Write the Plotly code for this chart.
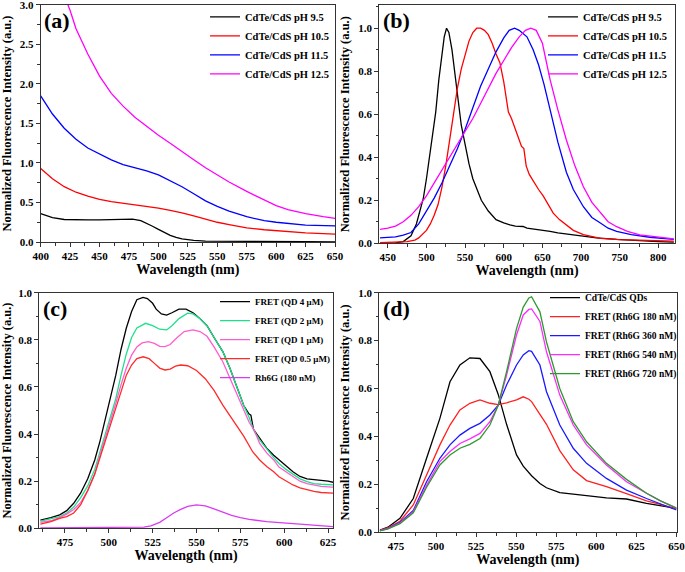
import plotly.graph_objects as go

# ---------------- Panel (a) ----------------
a_names = ["CdTe/CdS pH 9.5", "CdTe/CdS pH 10.5", "CdTe/CdS pH 11.5", "CdTe/CdS pH 12.5"]
a_x95 = [400, 410, 420, 430, 440, 450, 460, 470, 478, 485, 490, 495, 500, 505, 510, 515, 520, 525, 530, 540, 550, 575, 600, 625, 650]
a_y95 = [0.36, 0.31, 0.285, 0.28, 0.28, 0.28, 0.282, 0.29, 0.29, 0.27, 0.24, 0.20, 0.16, 0.12, 0.085, 0.06, 0.04, 0.03, 0.02, 0.012, 0.01, 0.008, 0.006, 0.004, 0.003]
a_x105 = [400, 410, 420, 430, 440, 450, 460, 470, 480, 490, 500, 510, 520, 530, 540, 550, 560, 575, 590, 600, 625, 650]
a_y105 = [0.93, 0.80, 0.70, 0.63, 0.58, 0.54, 0.51, 0.49, 0.47, 0.45, 0.43, 0.40, 0.37, 0.33, 0.29, 0.25, 0.22, 0.18, 0.155, 0.145, 0.115, 0.10]
a_x115 = [400, 410, 420, 430, 440, 450, 460, 470, 480, 490, 500, 510, 520, 530, 540, 550, 560, 575, 590, 600, 625, 650]
a_y115 = [1.85, 1.62, 1.44, 1.30, 1.19, 1.11, 1.04, 0.98, 0.94, 0.90, 0.85, 0.78, 0.70, 0.61, 0.52, 0.45, 0.39, 0.32, 0.27, 0.25, 0.215, 0.205]
a_x125 = [415, 420, 425, 430, 440, 450, 460, 470, 480, 490, 500, 510, 520, 530, 540, 550, 560, 575, 590, 600, 610, 625, 640, 650]
a_y125 = [3.40, 3.12, 2.93, 2.70, 2.38, 2.10, 1.88, 1.72, 1.58, 1.46, 1.35, 1.25, 1.14, 1.04, 0.94, 0.85, 0.76, 0.64, 0.53, 0.46, 0.41, 0.36, 0.32, 0.30]

# ---------------- Panel (b) ----------------
b_x95 = [440, 460, 470, 480, 487, 492, 496, 500, 504, 508, 512, 516, 520, 523, 526, 529, 533, 537, 541, 545, 550, 555, 560, 565, 571, 580, 590, 600, 608, 615, 625, 630, 640, 650, 660, 670, 682, 695, 707, 720, 746, 770, 800, 820]
b_y95 = [0.0, 0.002, 0.008, 0.035, 0.09, 0.15, 0.21, 0.30, 0.40, 0.50, 0.61, 0.76, 0.88, 0.96, 1.0, 0.98, 0.90, 0.79, 0.67, 0.55, 0.46, 0.37, 0.30, 0.25, 0.20, 0.15, 0.11, 0.095, 0.085, 0.08, 0.078, 0.07, 0.065, 0.062, 0.055, 0.048, 0.042, 0.035, 0.031, 0.025, 0.018, 0.012, 0.008, 0.005]
b_x105 = [440, 460, 475, 485, 490, 500, 505, 510, 515, 520, 525, 530, 535, 540, 545, 550, 555, 560, 565, 570, 575, 580, 585, 590, 595, 600, 603, 606, 610, 615, 620, 623, 626, 629, 633, 638, 645, 651, 657, 664, 672, 682, 690, 703, 725, 750, 768, 790, 820]
b_y105 = [0.003, 0.005, 0.008, 0.015, 0.025, 0.06, 0.09, 0.13, 0.18, 0.26, 0.36, 0.48, 0.60, 0.72, 0.81, 0.88, 0.94, 0.98, 1.0, 1.0, 0.99, 0.97, 0.93, 0.88, 0.84, 0.75, 0.68, 0.61, 0.58, 0.53, 0.47, 0.45, 0.44, 0.36, 0.32, 0.29, 0.25, 0.22, 0.18, 0.14, 0.11, 0.08, 0.06, 0.04, 0.023, 0.017, 0.015, 0.012, 0.01]
b_x115 = [440, 450, 460, 470, 480, 490, 500, 510, 520, 530, 540, 550, 560, 570, 580, 590, 600, 607, 614, 620, 630, 638, 645, 652, 660, 670, 681, 690, 703, 714, 725, 735, 746, 765, 789, 820]
b_y115 = [0.025, 0.026, 0.03, 0.038, 0.05, 0.09, 0.15, 0.21, 0.28, 0.36, 0.44, 0.53, 0.63, 0.73, 0.81, 0.89, 0.955, 0.99, 1.0, 0.99, 0.96, 0.90, 0.83, 0.74, 0.62, 0.47, 0.33, 0.25, 0.17, 0.12, 0.094, 0.07, 0.055, 0.04, 0.028, 0.018]
b_x125 = [440, 450, 460, 470, 480, 490, 500, 510, 520, 530, 540, 550, 560, 570, 580, 590, 600, 610, 620, 628, 635, 642, 650, 660, 670, 681, 692, 703, 714, 725, 735, 746, 760, 776, 800, 820]
b_y125 = [0.065, 0.07, 0.08, 0.10, 0.13, 0.17, 0.22, 0.28, 0.34, 0.40, 0.46, 0.52, 0.58, 0.65, 0.72, 0.79, 0.85, 0.91, 0.96, 0.99, 1.0, 0.99, 0.93, 0.76, 0.62, 0.48, 0.36, 0.263, 0.19, 0.14, 0.10, 0.077, 0.055, 0.039, 0.027, 0.02]

# ---------------- Panel (c) ----------------
c_names = ["FRET (QD 4 \u03bcM)", "FRET (QD 2 \u03bcM)", "FRET (QD 1 \u03bcM)", "FRET (QD 0.5 \u03bcM)", "Rh6G (180 nM)"]
c_x4 = [461, 467, 472, 476, 480, 484, 488, 492, 495, 498, 501, 504, 507, 510, 513, 516, 519.5, 522, 525, 527, 530, 533, 536, 540, 544, 548, 552, 556, 560, 565, 569, 573, 577, 580, 581, 582.5, 586, 590, 594, 597, 601, 605, 609, 613, 617, 621, 625, 628]
c_y4 = [0.035, 0.045, 0.057, 0.075, 0.106, 0.15, 0.21, 0.29, 0.37, 0.46, 0.55, 0.65, 0.76, 0.85, 0.92, 0.97, 0.98, 0.975, 0.955, 0.93, 0.91, 0.905, 0.915, 0.93, 0.93, 0.915, 0.89, 0.86, 0.81, 0.75, 0.68, 0.60, 0.52, 0.485, 0.48, 0.42, 0.38, 0.34, 0.31, 0.29, 0.265, 0.24, 0.22, 0.21, 0.207, 0.205, 0.20, 0.195]
c_x2 = [461, 467, 472, 476, 480, 484, 488, 492, 495, 498, 501, 504, 507, 510, 513, 516, 521, 525, 529, 533, 536, 540, 545, 548, 552, 556, 560, 565, 569, 573, 577, 580, 583, 586, 590, 594, 597, 601, 605, 609, 613, 617, 621, 625, 628]
c_y2 = [0.03, 0.04, 0.05, 0.065, 0.09, 0.13, 0.18, 0.25, 0.325, 0.40, 0.47, 0.55, 0.65, 0.74, 0.81, 0.85, 0.87, 0.86, 0.845, 0.842, 0.86, 0.89, 0.913, 0.91, 0.89, 0.86, 0.81, 0.75, 0.68, 0.60, 0.52, 0.47, 0.41, 0.375, 0.335, 0.30, 0.275, 0.25, 0.23, 0.21, 0.198, 0.19, 0.187, 0.185, 0.184]
c_x1 = [461, 467, 472, 476, 480, 484, 488, 492, 495, 498, 501, 504, 507, 510, 513, 516, 519, 522.5, 526, 529, 532, 535, 539, 543, 548, 552, 556, 560, 565, 569, 573, 577, 580, 583, 586, 590, 594, 597, 601, 605, 609, 613, 617, 621, 625, 628]
c_y1 = [0.025, 0.032, 0.045, 0.06, 0.08, 0.11, 0.16, 0.23, 0.31, 0.38, 0.45, 0.53, 0.61, 0.68, 0.735, 0.77, 0.787, 0.792, 0.785, 0.772, 0.771, 0.78, 0.81, 0.835, 0.842, 0.835, 0.815, 0.77, 0.707, 0.64, 0.566, 0.50, 0.45, 0.415, 0.36, 0.32, 0.29, 0.26, 0.24, 0.22, 0.20, 0.19, 0.183, 0.178, 0.176, 0.175]
c_x05 = [461, 467, 472, 476, 480, 484, 488, 492, 495, 498, 501, 504, 507, 510, 513, 516, 519.6, 523, 526, 529, 532, 535, 538, 541, 545, 550, 555, 560, 565, 569, 573, 577, 582, 586, 590, 594, 597, 601, 605, 609, 613, 617, 621, 625, 628]
c_y05 = [0.018, 0.028, 0.042, 0.05, 0.065, 0.10, 0.16, 0.23, 0.30, 0.37, 0.44, 0.51, 0.59, 0.65, 0.693, 0.72, 0.728, 0.72, 0.70, 0.68, 0.672, 0.676, 0.688, 0.693, 0.69, 0.67, 0.635, 0.585, 0.523, 0.48, 0.438, 0.39, 0.325, 0.29, 0.262, 0.24, 0.219, 0.20, 0.184, 0.172, 0.163, 0.157, 0.152, 0.15, 0.149]
c_xr = [461, 480, 500, 515, 520, 524, 529, 533, 537, 541, 545, 550, 555, 560, 565, 570, 575, 580, 590, 600, 610, 620, 628]
c_yr = [0.002, 0.002, 0.002, 0.003, 0.005, 0.01, 0.025, 0.045, 0.065, 0.08, 0.093, 0.099, 0.095, 0.082, 0.068, 0.055, 0.045, 0.038, 0.028, 0.022, 0.016, 0.011, 0.007]

# ---------------- Panel (d) ----------------
d_names = ["CdTe/CdS QDs", "FRET (Rh6G 180 nM)", "FRET (Rh6G 360 nM)", "FRET (Rh6G 540 nM)", "FRET (Rh6G 720 nM)"]
d_x = [465, 470, 477.5, 485.8, 494.1, 502.4, 508.7, 514.9, 521.1, 527.4, 533.6, 538.8, 544.0, 550.2, 554.4, 557.9, 559.6, 564.8, 568.9, 577.2, 585.6, 593.9, 606.3, 618.8, 631.3, 640, 650]
d_yqd = [0.008, 0.02, 0.057, 0.14, 0.308, 0.475, 0.628, 0.698, 0.728, 0.725, 0.67, 0.575, 0.45, 0.322, 0.275, 0.248, 0.235, 0.203, 0.185, 0.165, 0.157, 0.152, 0.143, 0.138, 0.12, 0.11, 0.099]
d_y180 = [0.007, 0.018, 0.045, 0.113, 0.238, 0.364, 0.447, 0.51, 0.538, 0.552, 0.538, 0.532, 0.54, 0.552, 0.565, 0.555, 0.545, 0.49, 0.45, 0.34, 0.26, 0.215, 0.19, 0.16, 0.13, 0.115, 0.096]
d_y360 = [0.006, 0.015, 0.04, 0.09, 0.21, 0.308, 0.364, 0.405, 0.433, 0.454, 0.489, 0.53, 0.614, 0.698, 0.74, 0.758, 0.755, 0.698, 0.586, 0.447, 0.35, 0.287, 0.224, 0.175, 0.14, 0.118, 0.092]
d_y540 = [0.006, 0.014, 0.037, 0.085, 0.195, 0.294, 0.336, 0.37, 0.389, 0.412, 0.461, 0.53, 0.656, 0.823, 0.907, 0.93, 0.932, 0.88, 0.753, 0.572, 0.447, 0.364, 0.28, 0.21, 0.162, 0.13, 0.1]
d_y720 = [0.005, 0.013, 0.035, 0.08, 0.187, 0.28, 0.322, 0.35, 0.366, 0.391, 0.447, 0.53, 0.67, 0.85, 0.94, 0.978, 0.983, 0.92, 0.794, 0.60, 0.461, 0.377, 0.287, 0.22, 0.162, 0.13, 0.1]

FONT = "Liberation Serif"
fig = go.Figure()

def add(x, y, name, color, xa, ya, leg):
    fig.add_trace(go.Scatter(x=x, y=y, name=name, mode="lines",
                             line=dict(color=color, width=1.3),
                             xaxis=xa, yaxis=ya, legend=leg))

add(a_x95, a_y95, a_names[0], "#000000", "x", "y", "legend")
add(a_x105, a_y105, a_names[1], "#ff0000", "x", "y", "legend")
add(a_x115, a_y115, a_names[2], "#0000ff", "x", "y", "legend")
add(a_x125, a_y125, a_names[3], "#ff00ff", "x", "y", "legend")

add(b_x95, b_y95, a_names[0], "#000000", "x2", "y2", "legend2")
add(b_x105, b_y105, a_names[1], "#ff0000", "x2", "y2", "legend2")
add(b_x115, b_y115, a_names[2], "#0000ff", "x2", "y2", "legend2")
add(b_x125, b_y125, a_names[3], "#ff00ff", "x2", "y2", "legend2")

add(c_x4, c_y4, c_names[0], "#000000", "x3", "y3", "legend3")
add(c_x2, c_y2, c_names[1], "#1ee08a", "x3", "y3", "legend3")
add(c_x1, c_y1, c_names[2], "#ff5ccf", "x3", "y3", "legend3")
add(c_x05, c_y05, c_names[3], "#ff2a2a", "x3", "y3", "legend3")
add(c_xr, c_yr, c_names[4], "#d83cf0", "x3", "y3", "legend3")

add(d_x, d_yqd, d_names[0], "#000000", "x4", "y4", "legend4")
add(d_x, d_y180, d_names[1], "#ff2020", "x4", "y4", "legend4")
add(d_x, d_y360, d_names[2], "#1a1aff", "x4", "y4", "legend4")
add(d_x, d_y540, d_names[3], "#ff2cff", "x4", "y4", "legend4")
add(d_x, d_y720, d_names[4], "#2e9a2e", "x4", "y4", "legend4")

tickfont = dict(family=FONT, size=11, color="black", weight="bold")
xtitle = dict(text="Wavelength (nm)", font=dict(family=FONT, size=14, color="black", weight="bold"), standoff=2)
ytitle = dict(text="Normalized Fluorescence Intensity (a.u.)", font=dict(family=FONT, size=12.5, color="black", weight="bold"), standoff=5)

def xax(domain, rng, dtick, anchor):
    return dict(domain=domain, range=rng, dtick=dtick, tick0=0, anchor=anchor, automargin=False,
                showline=True, linecolor="#333", linewidth=1, mirror=True,
                ticks="outside", ticklen=4, tickcolor="#333", ticklabeloverflow="allow",
                minor=dict(ticks="outside", ticklen=2.5, tickcolor="#333", dtick=dtick / 2, tick0=0),
                showgrid=False, zeroline=False, tickfont=tickfont, title=xtitle)

def yax(domain, rng, dtick, anchor, fmt):
    return dict(domain=domain, range=rng, dtick=dtick, tick0=0, anchor=anchor, tickformat=fmt, automargin=False,
                showline=True, linecolor="#333", linewidth=1, mirror=True,
                ticks="outside", ticklen=4, tickcolor="#333", ticklabeloverflow="allow",
                minor=dict(ticks="outside", ticklen=2.5, tickcolor="#333", dtick=dtick / 2, tick0=0),
                showgrid=False, zeroline=False, tickfont=tickfont, title=ytitle)

def leg(x, y, size):
    return dict(x=x, y=y, xanchor="left", yanchor="top",
                font=dict(family=FONT, size=size, color="black", weight="bold"),
                bgcolor="rgba(0,0,0,0)", borderwidth=0, itemwidth=30, tracegroupgap=0)

fig.update_layout(
    width=685, height=572, margin=dict(l=0, r=0, t=0, b=0, autoexpand=False),
    paper_bgcolor="white", plot_bgcolor="white",
    xaxis=xax([0.0594, 0.4891], [400, 650], 25, "y"),
    yaxis=yax([0.5769, 0.9913], [0, 3], 0.5, "x", ".1f"),
    xaxis2=xax([0.5537, 0.9854], [439, 821.5], 50, "y2"),
    yaxis2=yax([0.5747, 0.9913], [0, 1.108], 0.2, "x2", ".1f"),
    xaxis3=xax([0.0574, 0.4861], [460.4, 627.8], 25, "y3"),
    yaxis3=yax([0.0764, 0.4883], [0, 1.0], 0.2, "x3", ".1f"),
    xaxis4=xax([0.5537, 0.9876], [464.6, 650], 25, "y4"),
    yaxis4=yax([0.0699, 0.4883], [0, 1.0], 0.2, "x4", ".1f"),
    legend=leg(0.2993, 0.996, 10.5),
    legend2=leg(0.7927, 0.996, 10.5),
    legend3=leg(0.3139, 0.498, 9),
    legend4=leg(0.7956, 0.505, 9.5),
    showlegend=True,
)

labfont = dict(family=FONT, size=22, color="black", weight="bold")
for lab, xd in [("(a)", "x"), ("(b)", "x2"), ("(c)", "x3"), ("(d)", "x4")]:
    fig.add_annotation(text=lab, xref=xd + " domain", yref=xd.replace("x", "y") + " domain",
                       x=0.005, y=0.995, xanchor="left", yanchor="top", showarrow=False, font=labfont)

fig.write_html("out.html", config={"displayModeBar": False},
               post_script="document.body.style.margin='0';document.body.style.overflow='hidden';")
